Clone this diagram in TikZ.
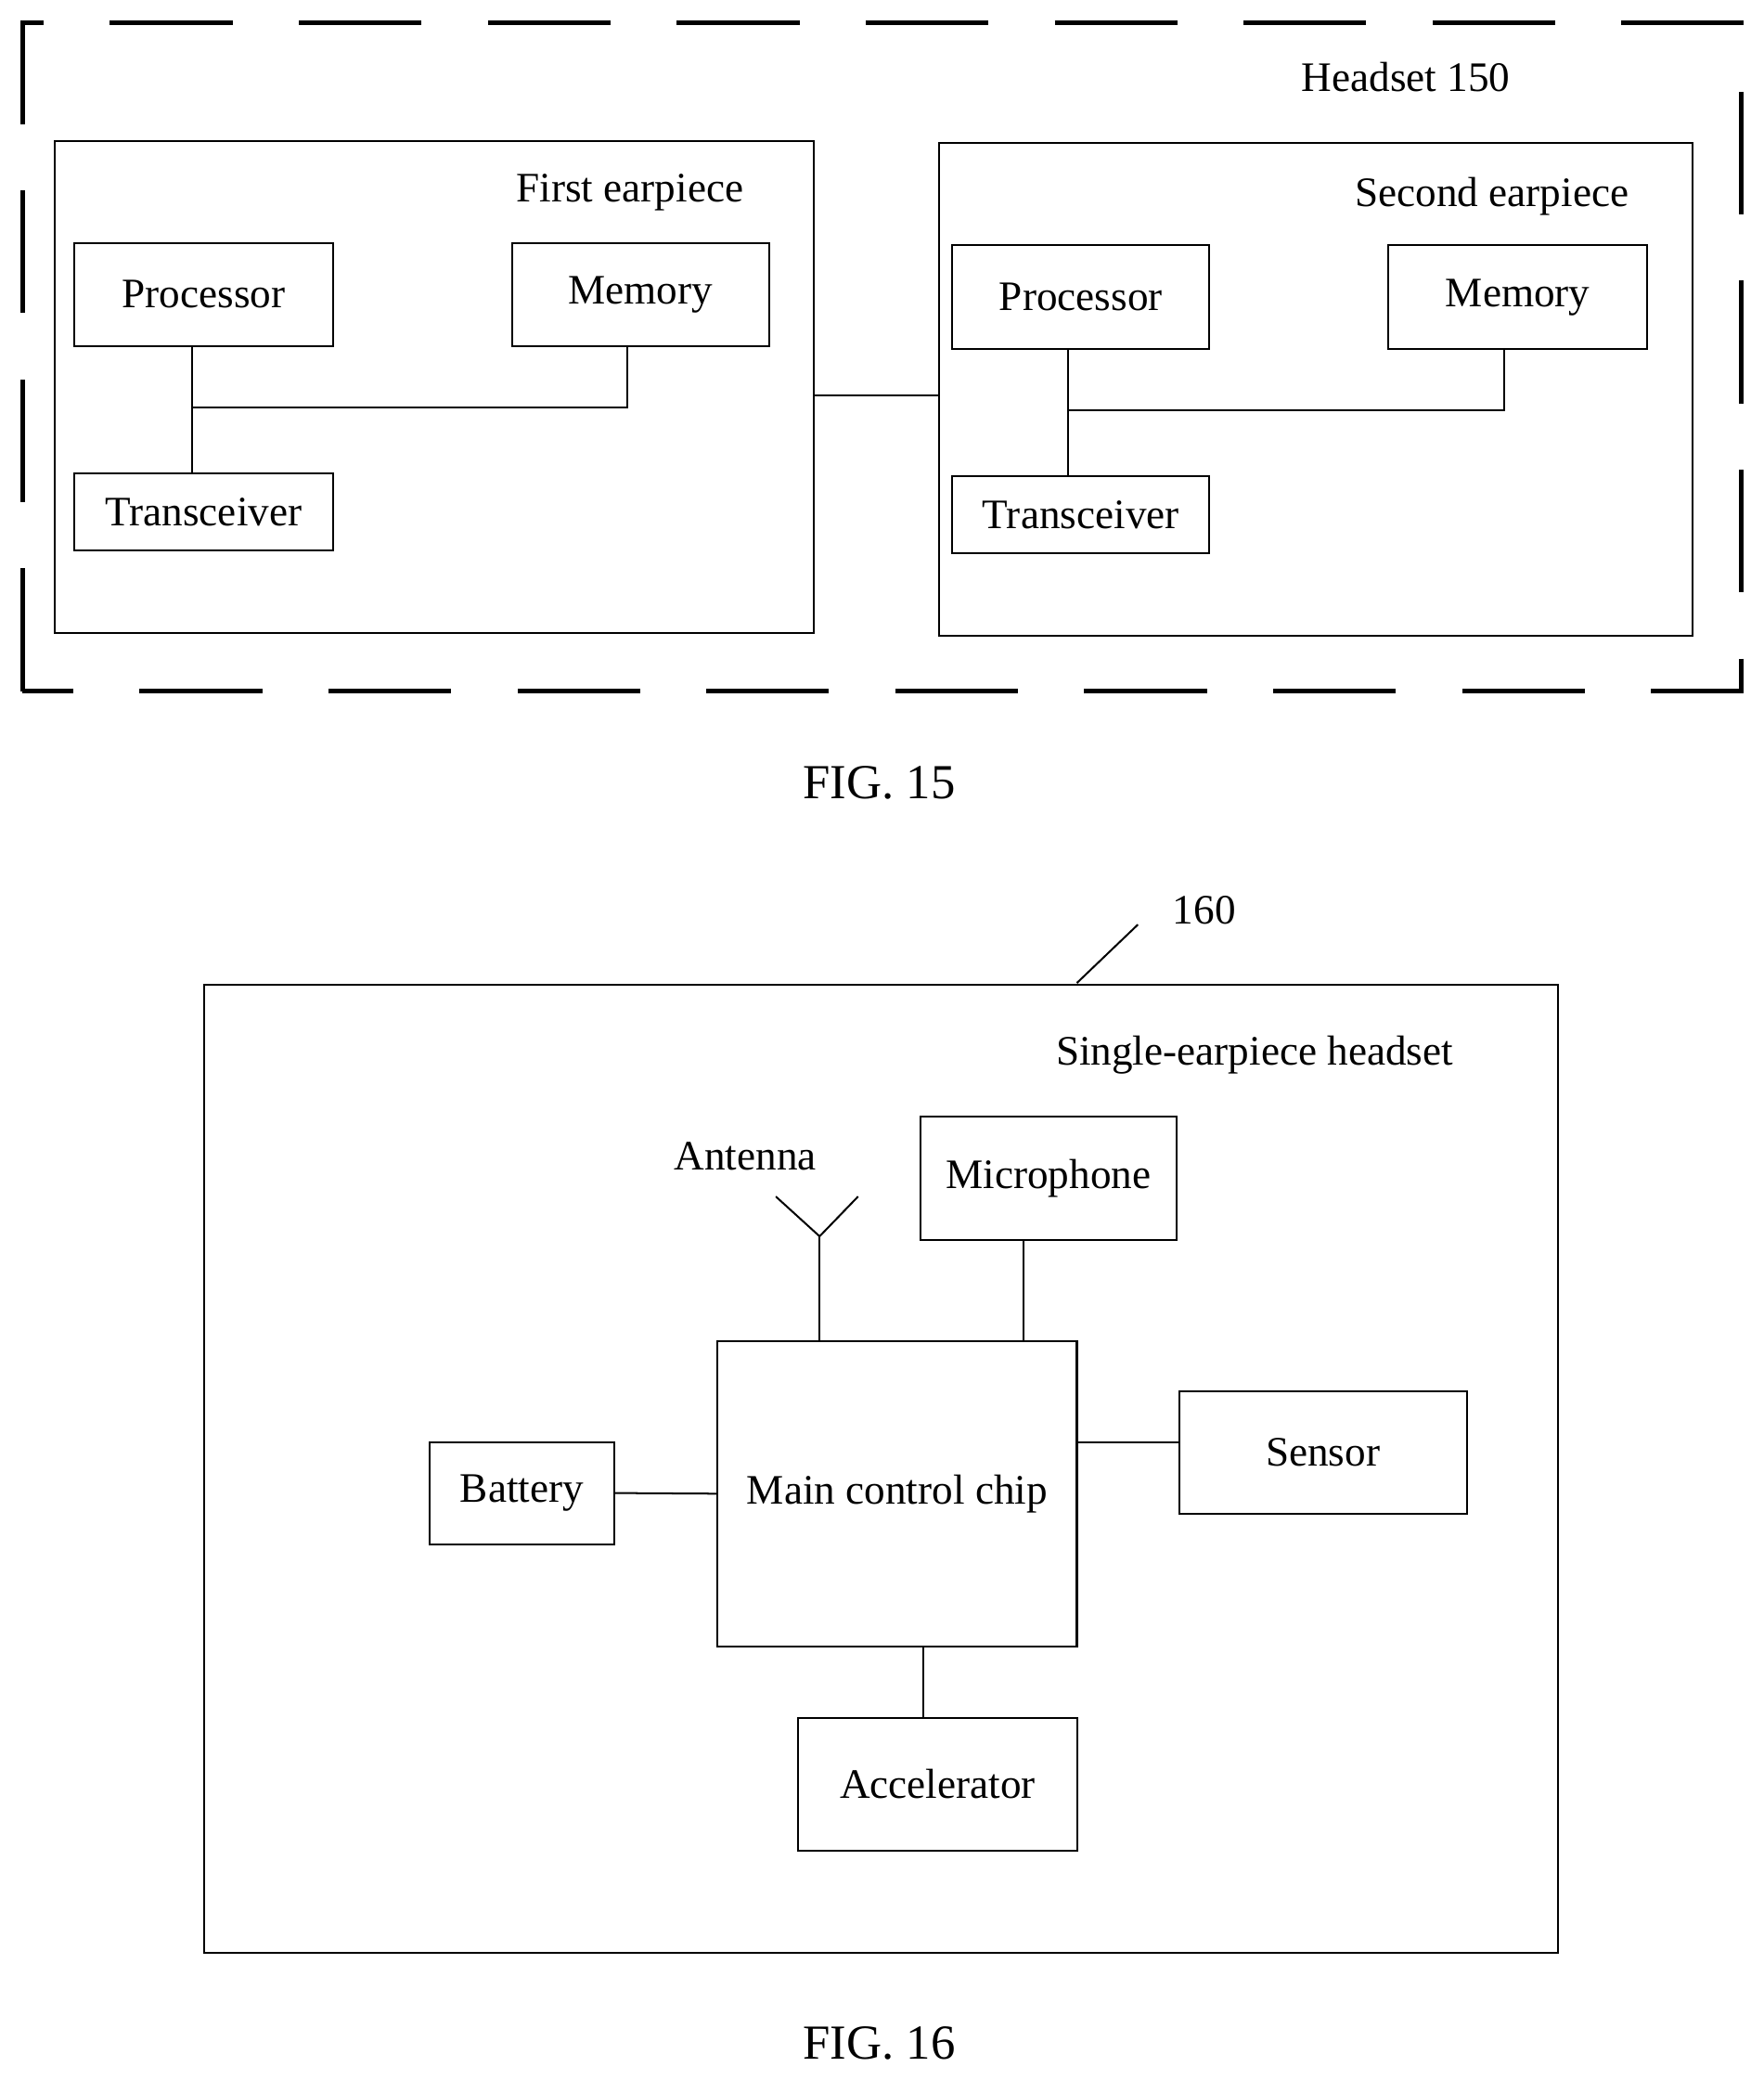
\documentclass[tikz,border=0pt]{standalone}
\usepackage{fontspec}
\setmainfont{Liberation Serif}
\begin{document}
\begin{tikzpicture}[x=0.02cm, y=-0.02cm, line width=0.8pt,
  every node/.style={font=\fontsize{18}{21}\selectfont, inner sep=0pt},
  blk/.style={draw, rectangle}]
  \useasboundingbox (0,0) rectangle (1330,1568);
  % FIG. 15
  \draw[line width=2.2pt, dash pattern=on 1.85cm off 1cm] (17,521) -- (17,17) -- (1313,17) -- (1313,521) -- cycle;
  \node (hs) at (1060,58) {Headset 150};
  \node[blk, minimum width=11.46cm, minimum height=7.42cm] (e1) at (327.5,291.5) {};
  \node (e1l) at (475,145) {First earpiece};
  \node[blk, minimum width=3.9cm, minimum height=1.56cm] (p1) at (153.5,222) {Processor};
  \node[blk, minimum width=3.88cm, minimum height=1.56cm] (m1) at (483,222) {Memory};
  \node[blk, minimum width=3.9cm, minimum height=1.16cm] (t1) at (153.5,386) {Transceiver};
  \coordinate (j1) at (145,307);
  \coordinate (k1) at (473,307);
  \draw (j1 |- p1.south) -- (j1 |- t1.north);
  \draw (j1) -- (k1) -- (k1 |- m1.south);
  \node[blk, minimum width=11.36cm, minimum height=7.42cm] (e2) at (992,293.5) {};
  \node (e2l) at (1125,148) {Second earpiece};
  \node[blk, minimum width=3.88cm, minimum height=1.56cm] (p2) at (815,224) {Processor};
  \node[blk, minimum width=3.9cm, minimum height=1.56cm] (m2) at (1144.5,224) {Memory};
  \node[blk, minimum width=3.88cm, minimum height=1.16cm] (t2) at (815,388) {Transceiver};
  \coordinate (j2) at (805,309);
  \coordinate (k2) at (1134,309);
  \draw (j2 |- p2.south) -- (j2 |- t2.north);
  \draw (j2) -- (k2) -- (k2 |- m2.south);
  \draw (e1.east |- 0,298) -- (e2.west |- 0,298);
  \node (f15) at (663,590) {\fontsize{21}{25}\selectfont FIG. 15};
  % FIG. 16
  \node[blk, minimum width=20.42cm, minimum height=14.6cm] (sh) at (664.5,1107) {};
  \node (shl) at (946,795) {Single-earpiece headset};
  \node (n160) at (908,686) {160};
  \coordinate (ld) at (858,697);
  \draw (812,741) -- (ld);
  \node (ant) at (562,872) {Antenna};
  \node[blk, minimum width=5.42cm, minimum height=4.6cm] (mc) at (676.5,1126) {Main control chip};
  \node[blk, minimum width=3.86cm, minimum height=1.86cm] (mic) at (790.5,888.5) {Microphone};
  \node[blk, minimum width=2.78cm, minimum height=1.54cm] (bat) at (393.5,1125.5) {Battery};
  \node[blk, minimum width=4.34cm, minimum height=1.84cm] (sen) at (997.5,1095) {Sensor};
  \node[blk, minimum width=4.2cm, minimum height=2cm] (acc) at (707,1345) {Accelerator};
  \coordinate (at) at (618,932);
  \draw (at |- mc.north) -- (at);
  \draw (585,902) -- (at) -- (647,902);
  \draw (mc.north -| 772,0) -- (mic.south -| 772,0);
  \draw (bat.east) -- (mc.west);
  \draw (mc.east |- 0,1087) -- (sen.west |- 0,1087);
  \draw (mc.south -| 696,0) -- (acc.north -| 696,0);
  \node (f16) at (663,1540) {\fontsize{21}{25}\selectfont FIG. 16};
\end{tikzpicture}
\end{document}
